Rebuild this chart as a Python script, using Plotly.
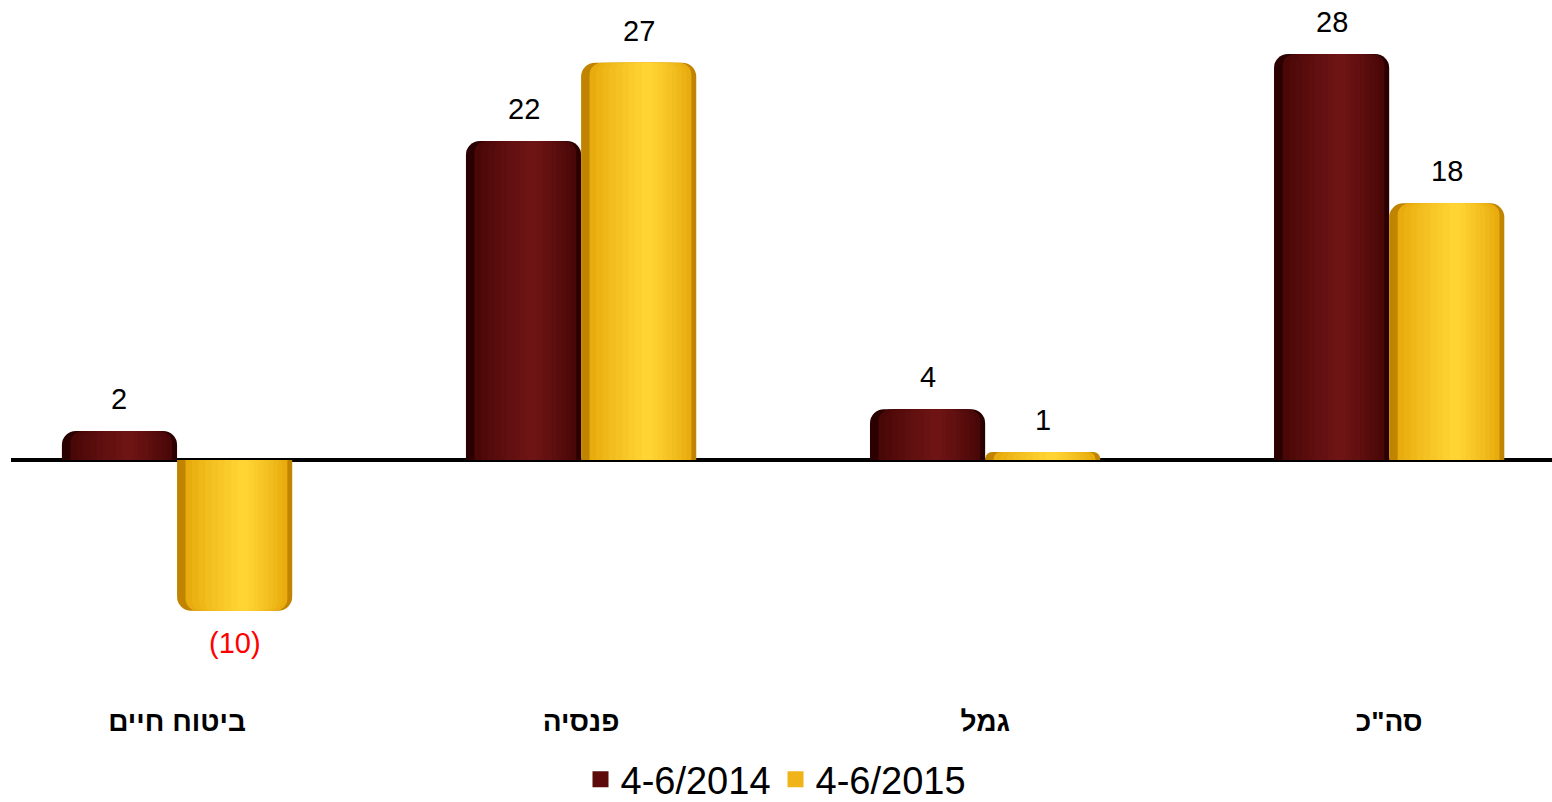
import plotly.graph_objects as go

# ---- data ----
categories = ["ביטוח חיים", "פנסיה", "גמל", 'סה"כ']
series_names = ["4-6/2014", "4-6/2015"]
values_2014 = [2.0, 22.0, 3.5, 28.0]
values_2015 = [-10.4, 27.4, 0.55, 17.7]
labels_2014 = ["2", "22", "4", "28"]
labels_2015 = ["(10)", "27", "1", "18"]

# ---- style ----
FONT = "Liberation Sans, Arial, sans-serif"
BAR_W = 0.285
N_LAYERS = 10
HIGHLIGHT = 0.58

def hex2rgb(h):
    h = h.lstrip("#")
    return tuple(int(h[i:i + 2], 16) for i in (0, 2, 4))

def mix(c1, c2, t):
    a, b = hex2rgb(c1), hex2rgb(c2)
    return "#%02x%02x%02x" % tuple(round(a[i] + (b[i] - a[i]) * t) for i in range(3))

def shades(edge_left, edge, hi):
    out = [(0.0, 1.0, edge_left)]
    for k in range(1, N_LAYERS):
        f = 1 - k / N_LAYERS
        s = HIGHLIGHT - HIGHLIGHT * f * 0.97
        e = HIGHLIGHT + (1 - HIGHLIGHT) * f
        t = (k / (N_LAYERS - 1)) ** 0.8
        out.append((s, e, mix(edge, hi, t)))
    return out

shade_2014 = shades("#2a0000", "#420404", "#6e1414")
shade_2015 = shades("#c08400", "#e4a406", "#ffd434")
legend_colors = ["#5c0a0a", "#f0b418"]

x_pos = list(range(len(categories)))
fig = go.Figure()

def add_series(vals, name, shade_list, base_offset):
    for i, (s, e, col) in enumerate(shade_list):
        fig.add_trace(go.Bar(
            x=x_pos, y=vals, name=name,
            width=BAR_W * (e - s), offset=base_offset + BAR_W * s,
            marker=dict(color=col, line=dict(width=0),
                        cornerradius=max(3, int(14 * (e - s)))),
            showlegend=False, legendgroup=name, hoverinfo="skip",
        ))

add_series(values_2014, series_names[0], shade_2014, -BAR_W)
add_series(values_2015, series_names[1], shade_2015, 0.0)

# legend entries (square markers)
for name, col in zip(series_names, legend_colors):
    fig.add_trace(go.Scatter(
        x=[None], y=[None], mode="markers", name=name, legendgroup=name,
        marker=dict(symbol="square", size=17, color=col, line=dict(width=0)),
        showlegend=True,
    ))

# value labels
for vals, labs, off in [(values_2014, labels_2014, -BAR_W / 2), (values_2015, labels_2015, BAR_W / 2)]:
    for xi, v, lab in zip(x_pos, vals, labs):
        neg = v < 0
        fig.add_annotation(
            x=xi + off, y=v, text=lab, showarrow=False,
            yanchor="top" if neg else "bottom", yshift=-14 if neg else 14,
            font=dict(family=FONT, size=29, color="#ff0000" if neg else "#000000"),
        )

PX_PER_UNIT = 14.5
fig.update_layout(
    width=1552, height=802,
    paper_bgcolor="white", plot_bgcolor="white",
    margin=dict(l=11, r=0, t=10, b=100),
    barmode="overlay",
    font=dict(family=FONT, color="#000000"),
    xaxis=dict(
        range=[-0.411, 3.403], tickvals=x_pos, ticktext=categories,
        showgrid=False, zeroline=False, showline=False, ticks="",
        tickfont=dict(family=FONT, size=28, color="#000000", weight="bold"),
    ),
    yaxis=dict(
        range=[-242 / PX_PER_UNIT, 450 / PX_PER_UNIT],
        showgrid=False, showticklabels=False, ticks="", showline=False,
        zeroline=True, zerolinecolor="#000000", zerolinewidth=4,
    ),
    legend=dict(
        orientation="h", xref="container", yref="container",
        x=0.5, xanchor="center", y=0.028, yanchor="middle",
        font=dict(family=FONT, size=38, color="#000000"),
        itemwidth=30, traceorder="normal",
    ),
    showlegend=True,
)

fig.write_html("out.html", config={"displayModeBar": False},
               post_script="document.body.style.margin='0';document.body.style.overflow='hidden';")
